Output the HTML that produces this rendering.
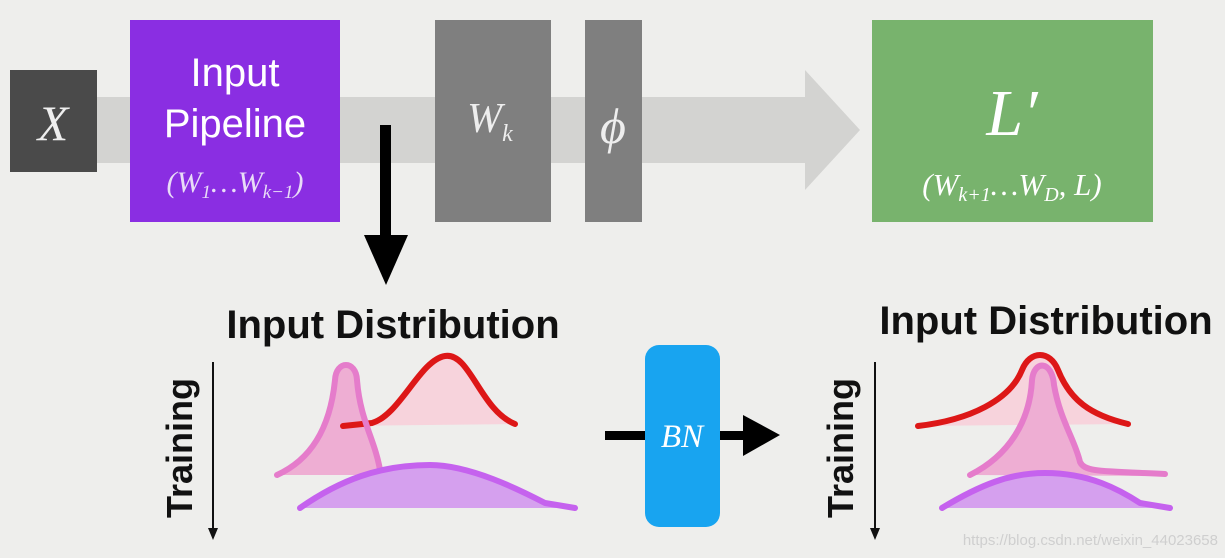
<!DOCTYPE html>
<html><head><meta charset="utf-8"><style>
body{margin:0;background:#eeeeec;}
svg{display:block;font-family:"Liberation Sans",sans-serif;}
.m{font-family:"Liberation Serif",serif;font-style:italic;}
</style></head><body>
<svg width="1225" height="558" viewBox="0 0 1225 558">
<rect width="1225" height="558" fill="#eeeeec"/>
<g>
<rect x="10" y="97" width="800" height="66" fill="#d3d3d1"/>
<polygon points="805,70 860,130 805,190" fill="#d3d3d1"/>
</g>
<g>
<rect x="10" y="70" width="87" height="102" fill="#4a4a4a"/>
<text x="53" y="140" class="m" font-size="50" fill="#eee" text-anchor="middle">X</text>
</g>
<g>
<rect x="130" y="20" width="210" height="202" fill="#8a2ee2"/>
<text x="235" y="86" font-size="40" fill="#fff" text-anchor="middle">Input</text>
<text x="235" y="137" font-size="40" fill="#fff" text-anchor="middle">Pipeline</text>
<text x="235" y="192" class="m" font-size="30" fill="#e8dcf7" text-anchor="middle">(W<tspan font-size="19" dy="6">1</tspan><tspan dy="-6">…W</tspan><tspan font-size="19" dy="6">k−1</tspan><tspan dy="-6">)</tspan></text>
</g>
<g>
<rect x="435" y="20" width="116" height="202" fill="#7f7f7f"/>
<text x="490" y="132" class="m" font-size="42" fill="#eee" text-anchor="middle">W<tspan font-size="24" dy="9">k</tspan></text>
</g>
<g>
<rect x="585" y="20" width="57" height="202" fill="#7f7f7f"/>
<text x="613" y="143" class="m" font-size="50" fill="#eee" text-anchor="middle">ϕ</text>
</g>
<g>
<rect x="872" y="20" width="281" height="202" fill="#78b36d"/>
<text x="1012" y="135" class="m" font-size="66" fill="#fff" text-anchor="middle">L′</text>
<text x="1012" y="195" class="m" font-size="31" fill="#fff" text-anchor="middle">(W<tspan font-size="20" dy="6">k+1</tspan><tspan dy="-6">…W</tspan><tspan font-size="20" dy="6">D</tspan><tspan dy="-6">, L)</tspan></text>
</g>
<g>
<rect x="380" y="125" width="11" height="112" fill="#000"/>
<polygon points="364,235 408,235 386,285" fill="#000"/>
</g>
<text x="393" y="338" font-size="40" font-weight="bold" fill="#111" text-anchor="middle">Input Distribution</text>
<text x="1046" y="334" font-size="40" font-weight="bold" fill="#111" text-anchor="middle">Input Distribution</text>
<g>
<text transform="translate(192,448) rotate(-90)" font-size="36" font-weight="bold" fill="#111" text-anchor="middle">Training</text>
<line x1="213" y1="362" x2="213" y2="532" stroke="#111" stroke-width="2"/>
<polygon points="208,528 218,528 213,540" fill="#111"/>
</g>
<g>
<text transform="translate(853,448) rotate(-90)" font-size="36" font-weight="bold" fill="#111" text-anchor="middle">Training</text>
<line x1="875" y1="362" x2="875" y2="532" stroke="#111" stroke-width="2"/>
<polygon points="870,528 880,528 875,540" fill="#111"/>
</g>
<g stroke-linecap="round" stroke-linejoin="round">
<path d="M343,426 L372,423 C400,415 420,360 445,356 C470,352 480,410 515,424 L515,424 Z" fill="#f7d3dc" stroke="none"/>
<path d="M277,475 C310,460 330,430 335,380 C336,360 356,360 357,380 C360,420 375,440 380,470 L380,475 Z" fill="#eeaed3" stroke="none"/>
<path d="M343,426 L372,423 C400,415 420,360 445,356 C470,352 480,410 515,424" fill="none" stroke="#dd1717" stroke-width="6"/>
<path d="M277,475 C310,460 330,430 335,380 C336,360 356,360 357,380 C360,420 375,440 380,470" fill="none" stroke="#e57ccb" stroke-width="6"/>
<path d="M300,508 C340,480 380,465 430,465 C480,465 520,490 545,503 L575,508 Z" fill="#d5a0ee" stroke="none"/>
<path d="M300,508 C340,480 380,465 430,465 C470,465 520,490 545,503 L575,508" fill="none" stroke="#c562ee" stroke-width="6"/>
</g>
<g>
<rect x="605" y="431" width="40" height="9" fill="#000"/>
<rect x="645" y="345" width="75" height="182" rx="14" fill="#18a4f0"/>
<text x="682" y="447" class="m" font-size="33" fill="#fff" text-anchor="middle">BN</text>
<rect x="720" y="431" width="25" height="9" fill="#000"/>
<polygon points="743,415 780,435 743,456" fill="#000"/>
</g>
<g stroke-linecap="round" stroke-linejoin="round">
<path d="M918,426 C970,420 1010,400 1022,370 C1030,350 1050,350 1058,370 C1070,400 1090,415 1128,424 Z" fill="#f7d3dc" stroke="none"/>
<path d="M918,426 C970,420 1010,400 1022,370 C1030,350 1050,350 1058,370 C1070,400 1090,415 1128,424" fill="none" stroke="#dd1717" stroke-width="6"/>
<path d="M970,475 C1010,455 1030,420 1032,380 C1034,360 1052,360 1054,385 C1060,420 1075,440 1080,462 C1085,472 1100,471 1165,474 L1165,476 Z" fill="#eeaed3" stroke="none"/>
<path d="M970,475 C1010,455 1030,420 1032,380 C1034,360 1052,360 1054,385 C1060,420 1075,440 1080,462 C1085,472 1100,471 1165,474" fill="none" stroke="#e57ccb" stroke-width="6"/>
<path d="M942,508 C980,485 1010,473 1045,473 C1090,473 1120,490 1140,503 L1170,508 Z" fill="#d5a0ee" stroke="none"/>
<path d="M942,508 C980,485 1010,473 1045,473 C1090,473 1120,490 1140,503 L1170,508" fill="none" stroke="#c562ee" stroke-width="6"/>
</g>
<text x="1218" y="545" font-size="15" fill="#cfcfcf" text-anchor="end">https://blog.csdn.net/weixin_44023658</text>
</svg>
</body></html>
